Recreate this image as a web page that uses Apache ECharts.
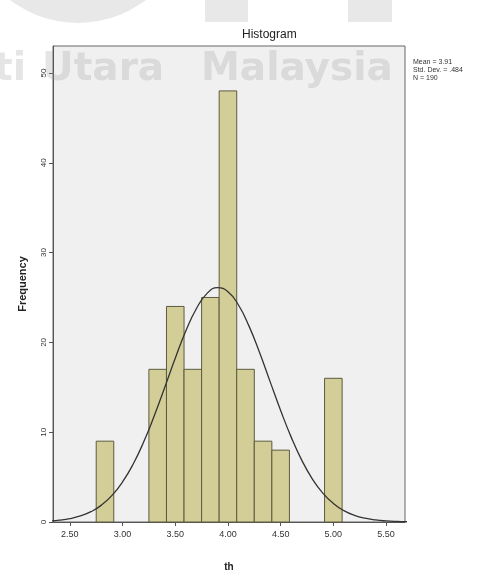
<!DOCTYPE html>
<html><head><meta charset="utf-8">
<script src="https://cdn.jsdelivr.net/npm/echarts@6/dist/echarts.min.js"></script>
<style>html,body{margin:0;padding:0;background:#fff}#c{width:482px;height:578px}</style>
</head><body><div id="c"></div>
<script>
// Histogram bins (centers) and frequencies
const binCenters = [2.8333, 3.3333, 3.5, 3.6667, 3.8333, 4.0, 4.1667, 4.3333, 4.5, 5.0];
const frequencies = [9, 17, 24, 17, 25, 48, 17, 9, 8, 16];
const binWidth = 1 / 6;
// Normal curve, points
const curveX = [2.3, 2.4, 2.5, 2.6, 2.7, 2.8, 2.9, 3.0, 3.1, 3.2, 3.3, 3.4, 3.5, 3.6, 3.7, 3.8, 3.9, 4.0, 4.1, 4.2, 4.3, 4.4, 4.5, 4.6, 4.7, 4.8, 4.9, 5.0, 5.1, 5.2, 5.3, 5.4, 5.5, 5.6, 5.7];
const curveY = [0.10, 0.20, 0.37, 0.67, 1.15, 1.88, 2.96, 4.46, 6.43, 8.90, 11.80, 14.98, 18.23, 21.26, 23.75, 25.43, 26.09, 25.65, 24.16, 21.81, 18.87, 15.63, 12.42, 9.45, 6.89, 4.81, 3.22, 2.07, 1.27, 0.75, 0.42, 0.23, 0.12, 0.06, 0.03];
const xTickValues = [2.5, 3.0, 3.5, 4.0, 4.5, 5.0, 5.5];
const yTickValues = [0, 10, 20, 30, 40, 50];
const statsLines = ['Mean = 3.91', 'Std. Dev. = .484', 'N = 190'];
const titleText = 'Histogram';
const xName = 'th';
const yName = 'Frequency';
const watermarkWords = ['ti', 'Utara', 'Malaysia'];

const chart = echarts.init(document.getElementById('c'), null, {renderer: 'canvas'});
const barData = binCenters.map((c, i) => [c, frequencies[i]]);
const curveData = curveX.map((x, i) => [x, curveY[i]]);
const FONT = 'Liberation Sans, Arial, sans-serif';
const WM_FONT = 'bold 39px DejaVu Sans, sans-serif';
const WM_FILL = 'rgba(150,150,150,0.25)';
const wmX = [-6, 42, 201];

chart.setOption({
  animation: false,
  backgroundColor: '#ffffff',
  title: {
    text: titleText, left: 237, top: 24,
    textStyle: {fontFamily: FONT, fontSize: 12, fontWeight: 'normal', color: '#222'}
  },
  grid: {
    left: 53, right: 77, top: 46, bottom: 56,
    show: true, backgroundColor: '#f0f0f0', borderColor: '#666', borderWidth: 1
  },
  xAxis: {
    type: 'value', min: 2.34, max: 5.68,
    name: xName, nameLocation: 'middle', nameGap: 40,
    nameTextStyle: {fontFamily: FONT, fontSize: 10, fontWeight: 'bold', color: '#222'},
    axisLine: {show: true, lineStyle: {color: '#555', width: 1}},
    axisTick: {show: true, length: 4, customValues: xTickValues, lineStyle: {color: '#555'}},
    axisLabel: {customValues: xTickValues, fontFamily: FONT, fontSize: 9, color: '#333', margin: 8,
      formatter: v => v.toFixed(2)},
    splitLine: {show: false}
  },
  yAxis: {
    type: 'value', min: 0, max: 53,
    name: yName, nameLocation: 'middle', nameGap: 25, nameRotate: 90,
    nameTextStyle: {fontFamily: FONT, fontSize: 11, fontWeight: 'bold', color: '#222'},
    axisLine: {show: true, lineStyle: {color: '#555', width: 1}},
    axisTick: {show: true, length: 4, customValues: yTickValues, lineStyle: {color: '#555'}},
    axisLabel: {customValues: yTickValues, fontFamily: FONT, fontSize: 8, color: '#333', rotate: 90, margin: 5},
    splitLine: {show: false}
  },
  series: [
    {
      type: 'custom',
      data: barData,
      encode: {x: 0, y: 1},
      z: 2,
      renderItem: function (params, api) {
        const c = api.value(0), v = api.value(1);
        const p0 = api.coord([c - binWidth / 2, v]);
        const p1 = api.coord([c + binWidth / 2, 0]);
        return {
          type: 'rect',
          shape: {x: p0[0], y: p0[1], width: p1[0] - p0[0], height: p1[1] - p0[1]},
          style: {fill: '#d3ce97', stroke: '#5d5b3e', lineWidth: 1}
        };
      }
    },
    {
      type: 'line',
      data: curveData,
      smooth: true,
      showSymbol: false,
      clip: true,
      z: 3,
      lineStyle: {color: '#333', width: 1.3}
    }
  ],
  graphic: [
    {type: 'text', left: 413, top: 58, z: 10,
      style: {text: statsLines.join('\n'), font: '7px ' + FONT, fill: '#333', lineHeight: 8}},
    // watermark shapes
    {type: 'circle', shape: {cx: 78, cy: -89, r: 112}, style: {fill: '#e8e8e8'}, z: -1},
    {type: 'rect', shape: {x: 205, y: 0, width: 43, height: 22}, style: {fill: '#e8e8e8'}, z: -1},
    {type: 'rect', shape: {x: 348, y: 0, width: 44, height: 22}, style: {fill: '#e8e8e8'}, z: -1}
  ].concat(watermarkWords.map((w, i) => ({
    type: 'text', x: wmX[i], y: 50, z: 20, silent: true,
    style: {text: w, font: WM_FONT, fill: WM_FILL}
  })))
});
</script>
</body></html>
